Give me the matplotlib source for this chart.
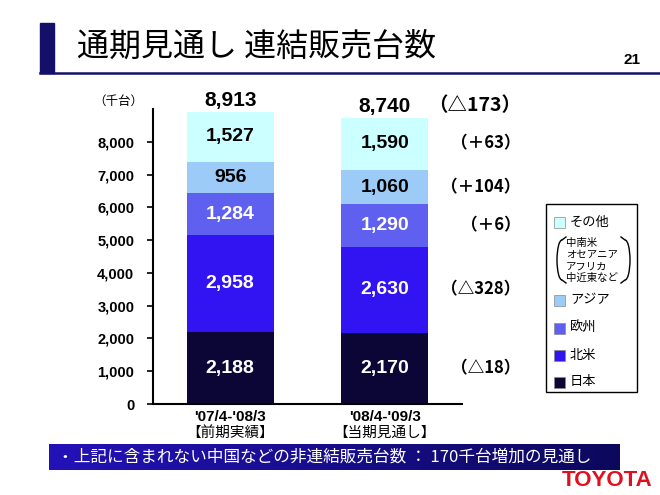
import numpy as np
import matplotlib.pyplot as plt
from matplotlib.patches import Rectangle, Arc

# データ（千台）
periods = ["'07/4-'08/3", "'08/4-'09/3"]
period_notes = ["【前期実績】", "【当期見通し】"]
regions = ["日本", "北米", "欧州", "アジア", "その他"]
japan = [2188, 2170]
north_america = [2958, 2630]
europe = [1284, 1290]
asia = [956, 1060]
others = [1527, 1590]
totals = [8913, 8740]
# 前期比の増減（日本, 北米, 欧州, アジア, その他）
changes = ["（△18）", "（△328）", "（＋6）", "（＋104）", "（＋63）"]
total_change = "（△173）"

colors = ["#0c0636", "#3214f2", "#5f5ff0", "#9dcbf7", "#ccffff"]
label_colors = ["white", "white", "white", "black", "black"]

LATIN = ["Liberation Sans", "DejaVu Sans"]
JP = ["Noto Sans CJK JP", "DejaVu Sans"]
plt.rcParams["font.family"] = JP

fig = plt.figure(figsize=(6.6, 4.95), dpi=100)
ax = fig.add_axes([153 / 660, 1 - 404 / 495, 309 / 660, 295 / 495])

x = np.arange(len(periods))
series = [japan, north_america, europe, asia, others]
bottom = np.zeros(len(periods))
for vals, col, lc in zip(series, colors, label_colors):
    vals = np.array(vals)
    ax.bar(x, vals, 0.56, bottom=bottom, color=col, edgecolor="none")
    for xi, b, v in zip(x, bottom, vals):
        ax.text(xi, b + v / 2, f"{v:,}", ha="center", va="center",
                color=lc, fontsize=14, fontweight="bold", family=LATIN)
    bottom = bottom + vals

for xi, t in zip(x, totals):
    ax.text(xi, t + 60, f"{t:,}", ha="center", va="bottom",
            fontsize=15, fontweight="bold", family=LATIN)

# 増減ラベル（当期バーの各区分の中心）
mids = np.cumsum([0] + [s[1] for s in series[:-1]]) + np.array([s[1] for s in series]) / 2
for m, c in zip(mids, changes):
    ax.text(1.88, m, c, ha="right", va="center", fontsize=12,
            fontweight="bold", clip_on=False)
ax.text(1.88, 9090, total_change, ha="right", va="center", fontsize=14,
        fontweight="bold", clip_on=False)

ax.set_xlim(-0.5, 1.5)
ax.set_ylim(0, 9000)
ax.set_yticks(np.arange(0, 9000, 1000))
ax.set_yticklabels([f"{v:,}" for v in range(0, 9000, 1000)],
                   family=LATIN, fontweight="bold", fontsize=10.5)
ax.tick_params(axis="y", length=4.5, width=1.2, pad=9)
ax.set_xticks([])
for s in ["top", "right"]:
    ax.spines[s].set_visible(False)
for s in ["left", "bottom"]:
    ax.spines[s].set_linewidth(1.5)

for xi, p, n in zip(x, periods, period_notes):
    ax.text(xi, -0.045, p, transform=ax.get_xaxis_transform(), ha="center",
            va="center", fontsize=11, fontweight="bold", family=LATIN)
    ax.text(xi, -0.098, n, transform=ax.get_xaxis_transform(), ha="center",
            va="center", fontsize=10.5)

# 装飾用のオーバーレイ（ピクセル座標）
ov = fig.add_axes([0, 0, 1, 1], zorder=5)
ov.set_xlim(0, 660)
ov.set_ylim(495, 0)
ov.axis("off")
ov.patch.set_alpha(0)

ov.text(118, 101, "（千台）", ha="center", va="center", fontsize=9)

# タイトル
ov.add_patch(Rectangle((40, 23), 14, 50, color="#14106a"))
ov.plot([40, 660], [73, 73], color="#14106a", lw=1.8)
ov.text(77, 47, "通期見通し 連結販売台数", ha="left", va="center", fontsize=23)
ov.text(632, 60, "21", ha="center", va="center", fontsize=11,
        fontweight="bold", family=LATIN)

# 凡例
ov.add_patch(Rectangle((546, 204), 91, 188, fill=False, edgecolor="black", lw=1))
legend_y = {"その他": 222, "アジア": 300, "欧州": 328, "北米": 355, "日本": 382}
for r, col in zip(regions, colors):
    y = legend_y[r]
    ov.add_patch(Rectangle((554, y - 5.5), 11, 11, facecolor=col,
                           edgecolor="#888888", lw=0.5))
    ov.text(570, y, r, ha="left", va="center", fontsize=9.5)
for i, s in enumerate(["中南米", "オセアニア", "アフリカ", "中近東など"]):
    ov.text(566, 243 + i * 11.5, s, ha="left", va="center", fontsize=7.5)
ov.add_patch(Arc((562, 260), 10, 40, theta1=90, theta2=270, lw=1))
ov.add_patch(Arc((625, 260), 10, 40, theta1=-90, theta2=90, lw=1))
ov.plot([562, 566], [240, 237], color="black", lw=1)
ov.plot([625, 621], [240, 237], color="black", lw=1)
ov.plot([562, 566], [280, 283], color="black", lw=1)
ov.plot([625, 621], [280, 283], color="black", lw=1)

# 下部バナー
grad = np.linspace(0, 1, 256)[None, :]
c0 = np.array([0x23, 0x12, 0xb8]) / 255
c1 = np.array([0x0c, 0x08, 0x5c]) / 255
img = c0[None, None, :] * (1 - grad[..., None]) + c1[None, None, :] * grad[..., None]
ov.imshow(img, extent=(49, 620, 470, 444), aspect="auto", zorder=1)
ov.text(57, 457, "・上記に含まれない中国などの非連結販売台数 ： 170千台増加の見通し",
        ha="left", va="center", color="white", fontsize=12, zorder=2)
ov.set_xlim(0, 660)
ov.set_ylim(495, 0)

ov.text(653, 480, "TOYOTA", ha="right", va="center", color="#e01020",
        fontsize=16, fontweight="bold", family=LATIN)

fig.savefig("out.png", dpi=100)
